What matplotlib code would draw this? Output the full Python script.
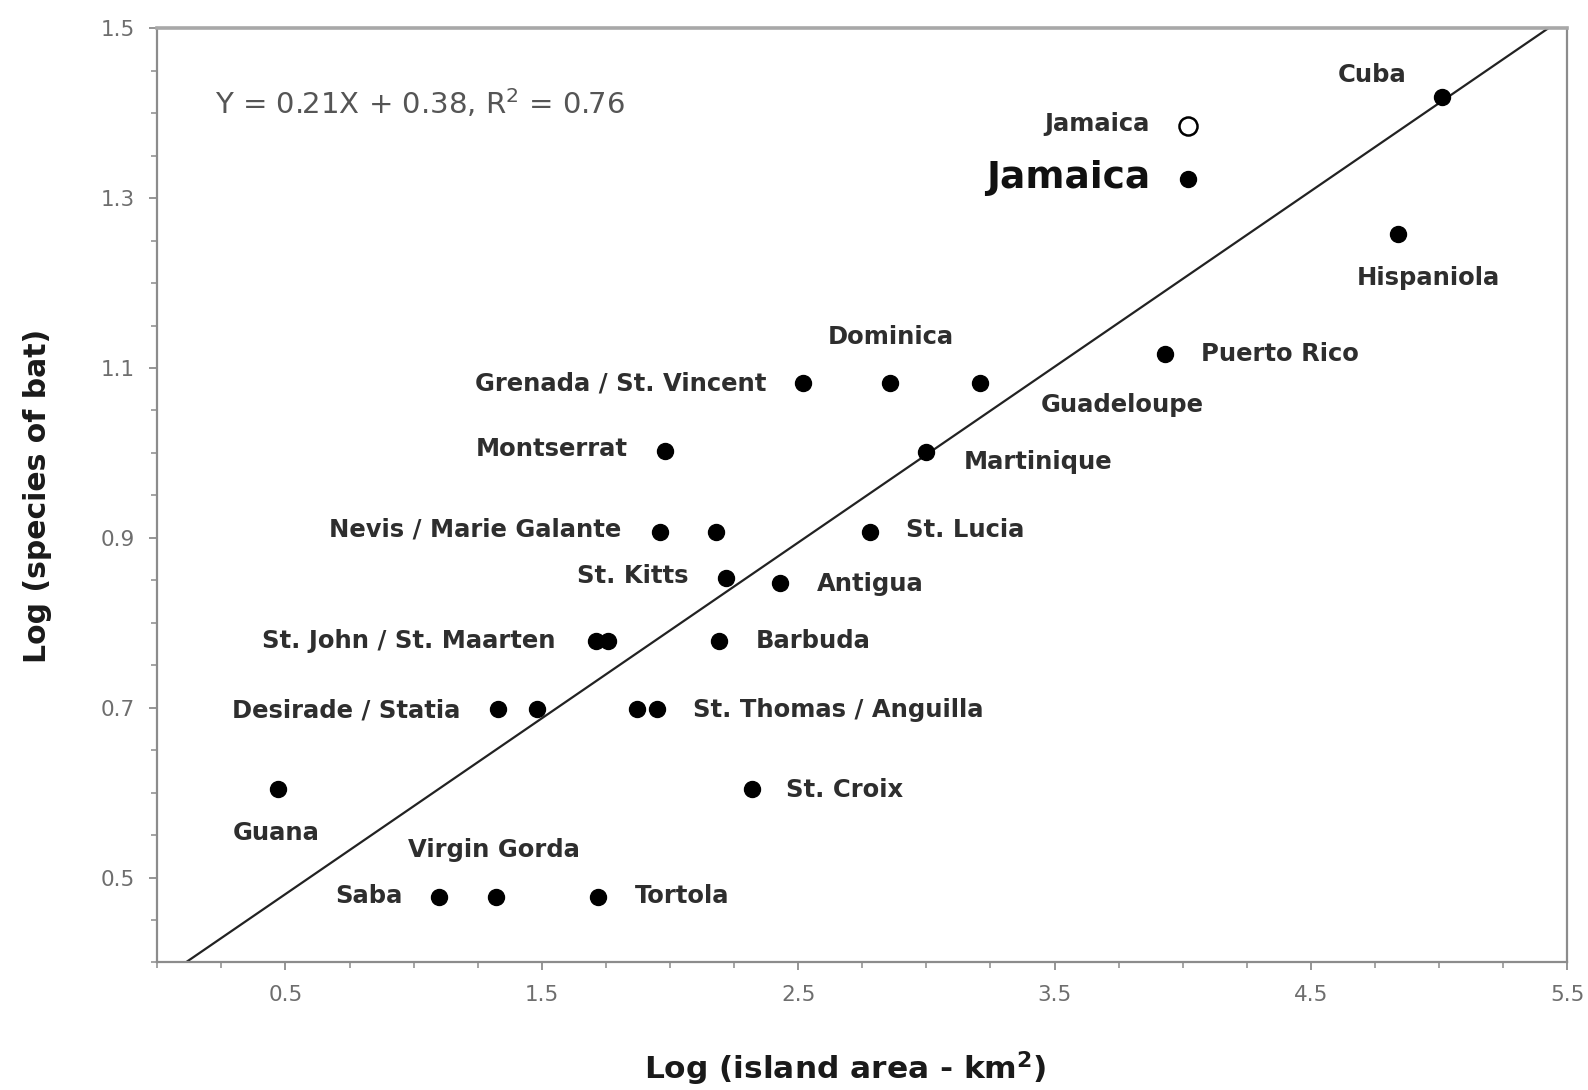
import numpy as np
import matplotlib
matplotlib.use("Agg")
import matplotlib.pyplot as plt

plt.rcParams['font.family'] = ['DejaVu Sans']

# island points: log(area), log(species)
islands = ['Cuba', 'Jamaica', 'Hispaniola', 'Puerto Rico', 'Grenada / St. Vincent', 'Dominica',
           'Guadeloupe', 'Montserrat', 'Martinique', 'Nevis', 'Marie Galante', 'St. Lucia',
           'St. Kitts', 'Antigua', 'St. John', 'St. Maarten', 'Barbuda', 'Desirade', 'Statia',
           'St. Thomas', 'Anguilla', 'Guana', 'St. Croix', 'Saba', 'Virgin Gorda', 'Tortola']
log_area = [5.01, 4.02, 4.84, 3.93, 2.52, 2.86,
            3.21, 1.98, 3.00, 1.96, 2.18, 2.78,
            2.22, 2.43, 1.71, 1.76, 2.19, 1.33, 1.48,
            1.87, 1.95, 0.47, 2.32, 1.10, 1.32, 1.72]
log_species = [1.419, 1.323, 1.258, 1.116, 1.082, 1.082,
               1.082, 1.002, 1.001, 0.907, 0.907, 0.907,
               0.853, 0.847, 0.778, 0.778, 0.778, 0.698, 0.698,
               0.698, 0.698, 0.604, 0.604, 0.477, 0.477, 0.477]

# Jamaica older estimate (open circle)
jam_old_x = [4.02]
jam_old_y = [1.385]

# fitted line
slope = 0.207
intercept = 0.377
fit_x = [0.11, 5.5]

# label text, anchor island, offset (pixels), alignment
labels = [
    ('Cuba', 'Cuba', (-70, 22), 'center'),
    ('Hispaniola', 'Hispaniola', (30, -44), 'center'),
    ('Puerto Rico', 'Puerto Rico', (36, 0), 'left'),
    ('Grenada / St. Vincent', 'Grenada / St. Vincent', (-37, 0), 'right'),
    ('Dominica', 'Dominica', (0, 46), 'center'),
    ('Guadeloupe', 'Guadeloupe', (142, -22), 'center'),
    ('Montserrat', 'Montserrat', (-37, 2), 'right'),
    ('Martinique', 'Martinique', (37, -10), 'left'),
    ('Nevis / Marie Galante', 'Nevis', (-38, 2), 'right'),
    ('St. Lucia', 'St. Lucia', (36, 2), 'left'),
    ('St. Kitts', 'St. Kitts', (-38, 2), 'right'),
    ('Antigua', 'Antigua', (37, -1), 'left'),
    ('St. John / St. Maarten', 'St. John', (-40, 0), 'right'),
    ('Barbuda', 'Barbuda', (37, 0), 'left'),
    ('Desirade / Statia', 'Desirade', (-38, -1), 'right'),
    ('St. Thomas / Anguilla', 'Anguilla', (36, -1), 'left'),
    ('Guana', 'Guana', (-2, -44), 'center'),
    ('St. Croix', 'St. Croix', (34, -1), 'left'),
    ('Virgin Gorda', 'Virgin Gorda', (-2, 47), 'center'),
    ('Saba', 'Saba', (-37, 1), 'right'),
    ('Tortola', 'Tortola', (37, 1), 'left'),
]

fig = plt.figure(figsize=(15.88, 10.90), dpi=100)
ax = fig.add_axes([0.099, 0.117, 0.888, 0.857])

spine_col = '#8c8c8c'
lab_col = '#2e2e2e'

# regression line
fx = np.array(fit_x)
ax.plot(fx, slope * fx + intercept, color='#222222', lw=1.6, zorder=2)

ax.plot(log_area, log_species, 'o', color='black', ms=11.5, zorder=3)
ax.plot(jam_old_x, jam_old_y, 'o', mfc='white', mec='black', mew=1.8, ms=13, zorder=3)

pos = dict(zip(islands, zip(log_area, log_species)))
for text, anchor, off, ha in labels:
    ax.annotate(text, pos[anchor], xytext=off, textcoords='offset pixels',
                ha=ha, va='center', fontsize=17.5, fontweight='bold', color=lab_col)

# Jamaica labels
ax.annotate('Jamaica', (jam_old_x[0], jam_old_y[0]), xytext=(-38, 2), textcoords='offset pixels',
            ha='right', va='center', fontsize=17.5, fontweight='bold', color=lab_col)
ax.annotate('Jamaica', pos['Jamaica'], xytext=(-38, 1), textcoords='offset pixels',
            ha='right', va='center', fontsize=27, fontweight='bold', color='#111111')

ax.text(0.041, 0.92, 'Y = 0.21X + 0.38, R$^2$ = 0.76', transform=ax.transAxes,
        fontsize=21, color='#555555', ha='left', va='center')

ax.set_xlim(0, 5.5)
ax.set_ylim(0.4, 1.5)
ax.set_xticks([0.5, 1.5, 2.5, 3.5, 4.5, 5.5])
ax.set_xticks(np.arange(0, 5.51, 0.25), minor=True)
ax.set_yticks([0.5, 0.7, 0.9, 1.1, 1.3, 1.5])
ax.set_yticks(np.arange(0.4, 1.51, 0.05), minor=True)
ax.tick_params(which='major', direction='out', length=6, width=1.3, color=spine_col,
               labelsize=15.5, labelcolor='#6e6e6e', pad=10)
ax.tick_params(which='minor', direction='out', length=4, width=1.1, color=spine_col)

for side in ['left', 'bottom', 'right']:
    ax.spines[side].set_color(spine_col)
    ax.spines[side].set_linewidth(1.6)
ax.spines['top'].set_color('#a8a8a8')
ax.spines['top'].set_linewidth(2.6)

xl = ax.set_xlabel('Log (island area - km$^\\mathbf{2}$)', fontsize=22.5, fontweight='bold',
                   color='#1a1a1a')
xl.set_va('center')
ax.xaxis.set_label_coords(0.488, -0.114)
ax.set_ylabel('Log (species of bat)', fontsize=21.5, fontweight='bold',
              color='#1a1a1a', labelpad=35)

fig.savefig('out.png', dpi=100, facecolor='white')
